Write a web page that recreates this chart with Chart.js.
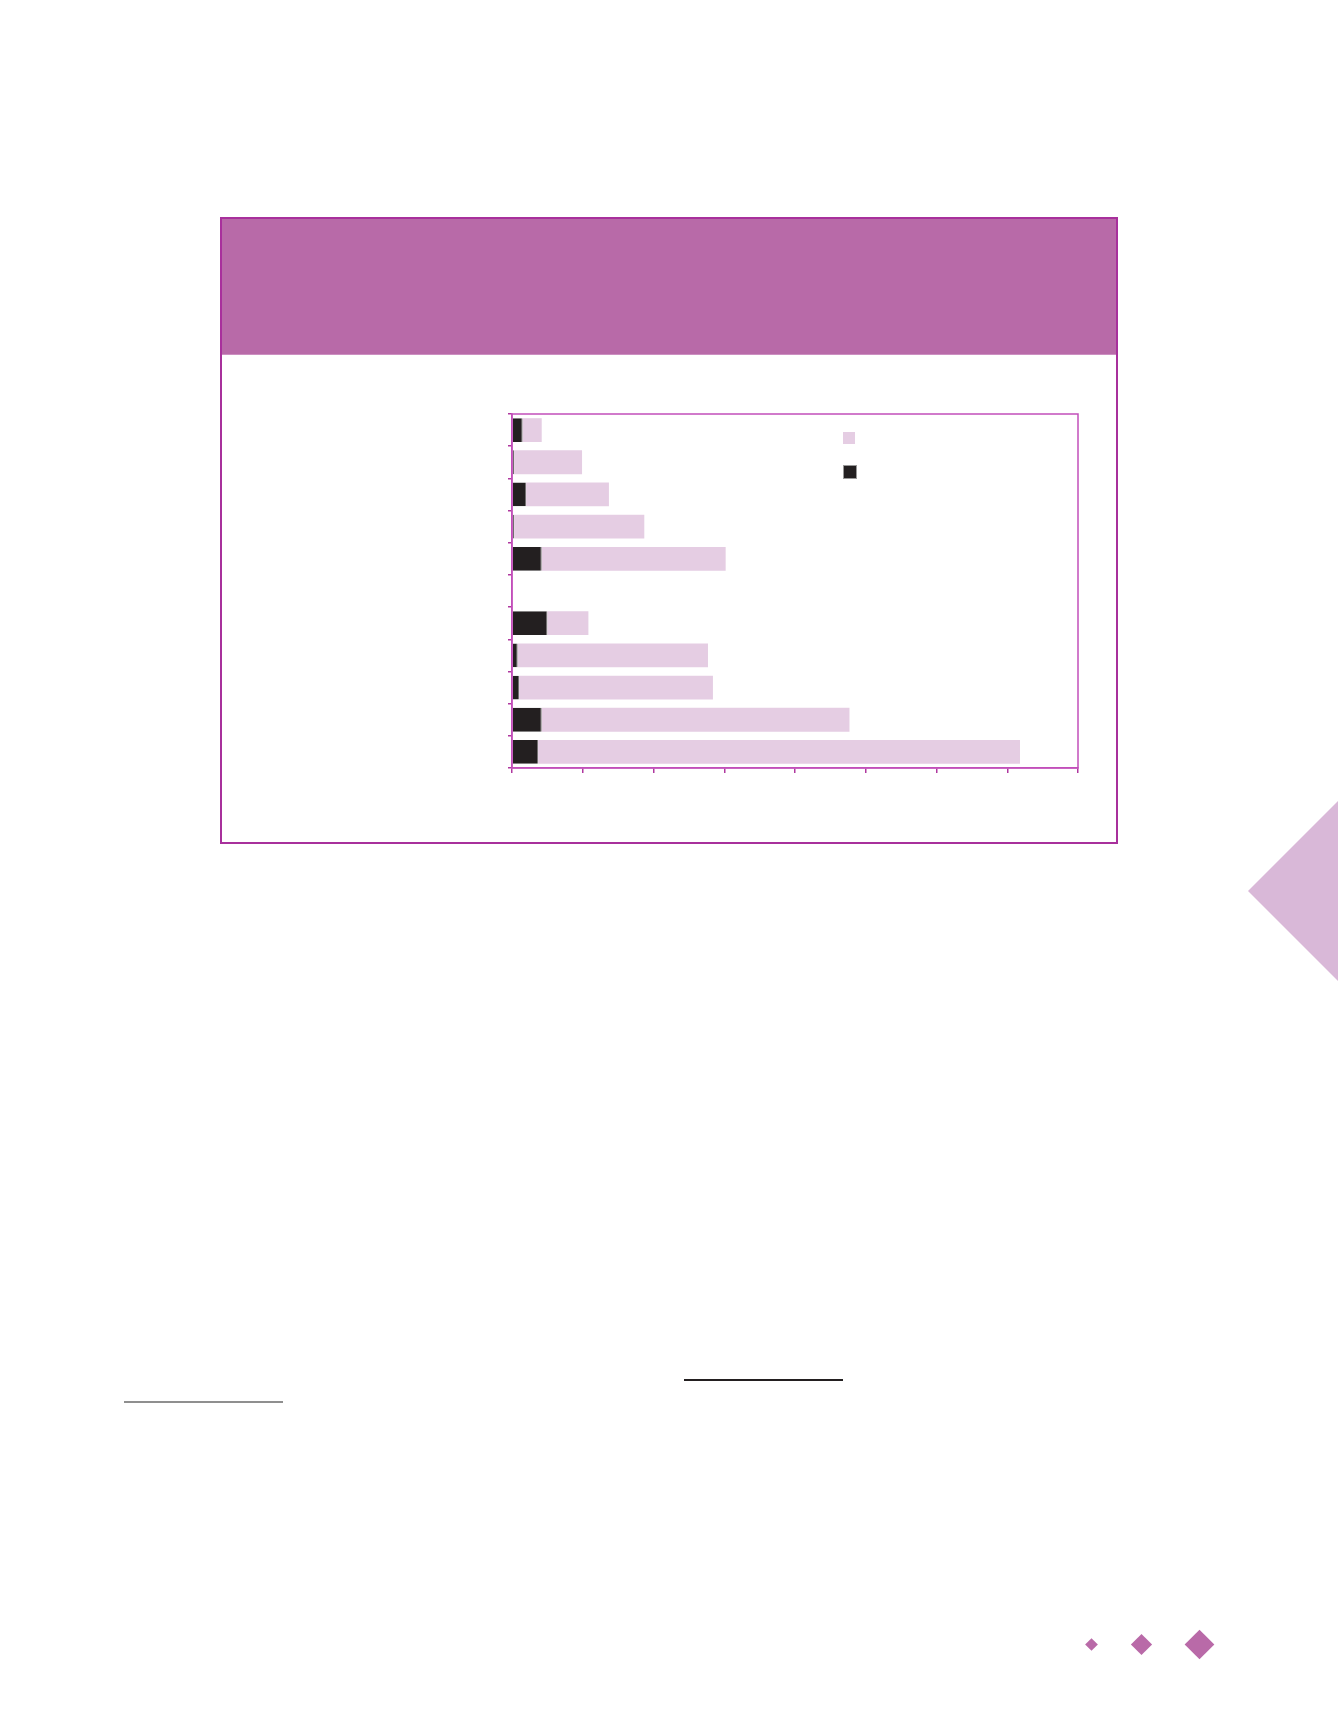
<!DOCTYPE html>
<html>
<head>
<meta charset="utf-8">
<script src="https://cdn.jsdelivr.net/npm/chart.js@4.4.1/dist/chart.umd.min.js"></script>
<style>
  html, body { margin: 0; padding: 0; background: #fff; }
  body { width: 1338px; height: 1731px; position: relative; overflow: hidden; font-family: "Open Sans", sans-serif; }
  #frame { position: absolute; left: 220px; top: 217px; width: 894px; height: 623px; border: 2.5px solid #a8309c; }
  #band { position: absolute; left: 0; top: 0; right: 0; height: 135px; background: #b86aa8; border-bottom: 1px solid #cc8fc1; }
  #wrap { position: absolute; left: 490px; top: 400px; width: 600px; height: 390px; }
  .key { position: absolute; left: 843px; width: 12px; height: 12px; }
  #triangle { position: absolute; left: 1248px; top: 801px; width: 90px; height: 180px; background: #d9b8d8; clip-path: polygon(0 50%, 100% 0, 100% 100%); }
  .dia { position: absolute; background: #b96aa8; transform: rotate(45deg); }
  .rule { position: absolute; }
</style>
</head>
<body>
<div id="frame"><div id="band"></div></div>
<div id="wrap"><canvas id="myChart"></canvas></div>
<div class="key" style="top:432px; background:#e5cde3;"></div>
<div class="key" style="top:465px; background:#231f20; border:0.5px solid #999;"></div>
<div id="triangle"></div>
<div class="dia" style="left:1087px; top:1640px; width:9px; height:9px;"></div>
<div class="dia" style="left:1133.5px; top:1636.5px; width:15px; height:15px;"></div>
<div class="dia" style="left:1188.5px; top:1633.5px; width:21px; height:21px;"></div>
<div class="rule" style="left:684px; top:1379px; width:159px; height:1.5px; background:#231f20;"></div>
<div class="rule" style="left:124px; top:1401px; width:159px; height:2px; background:#8f8f8f;"></div>
<script>

// categories (top to bottom); row 6 is an empty gap in the original
var categories = ["1", "2", "3", "4", "5", "", "7", "8", "9", "10", "11"];

// dark segment (starts at 0)
var darkValues = [1.5, 0.3, 2.0, 0.3, 4.2, null, 5.0, 0.8, 1.0, 4.2, 3.7];

// pale segment stacked after the dark one
var paleValues = [2.7, 9.6, 11.7, 18.4, 26.0, null, 5.8, 26.9, 27.4, 43.5, 68.1];

var xTicks = [0, 10, 20, 30, 40, 50, 60, 70, 80];

var plotOutline = {
    id: "plotOutline",
    afterDraw: function (chart) {
        var a = chart.chartArea;
        var c = chart.ctx;
        c.save();
        c.strokeStyle = "#c24fba";
        c.lineWidth = 1.5;
        c.strokeRect(a.left, a.top, a.right - a.left, a.bottom - a.top);
        c.restore();
    }
};

var ctx = document.getElementById("myChart");

var data = {
    labels: categories,
    datasets: [
        {
            label: "dark",
            data: darkValues,
            backgroundColor: "#231f20",
            borderColor: "#6d6a6b",
            borderWidth: { right: 1 },
            borderSkipped: false,
            barPercentage: 0.74,
            categoryPercentage: 1
        },
        {
            label: "pale",
            data: paleValues,
            backgroundColor: "#e5cde3",
            borderWidth: 0,
            barPercentage: 0.74,
            categoryPercentage: 1
        }
    ]
};

var options = {
    indexAxis: "y",
    responsive: true,
    maintainAspectRatio: false,
    animation: false,
    layout: { padding: { left: 12, top: 14, right: 12, bottom: 12 } },
    plugins: {
        legend: { display: false },
        tooltip: { enabled: false }
    },
    scales: {
        x: {
            stacked: true,
            min: xTicks[0],
            max: xTicks[xTicks.length - 1],
            afterBuildTicks: function (scale) {
                scale.ticks = xTicks.map(function (v) { return { value: v }; });
            },
            afterFit: function (scale) { scale.height = 10; },
            ticks: { display: false },
            grid: { drawOnChartArea: false, tickLength: 5, color: "#b0389f", lineWidth: 1.5 },
            border: { color: "#c24fba", width: 1.5 }
        },
        y: {
            stacked: true,
            afterFit: function (scale) { scale.width = 10; },
            ticks: { display: false },
            grid: { drawOnChartArea: false, tickLength: 4, color: "#b0389f", lineWidth: 1.5, offset: true },
            border: { color: "#c24fba", width: 1.5 }
        }
    }
};

var chart = new Chart(ctx, {
    type: "bar",
    data: data,
    options: options,
    plugins: [plotOutline]
});
</script>
</body>
</html>
